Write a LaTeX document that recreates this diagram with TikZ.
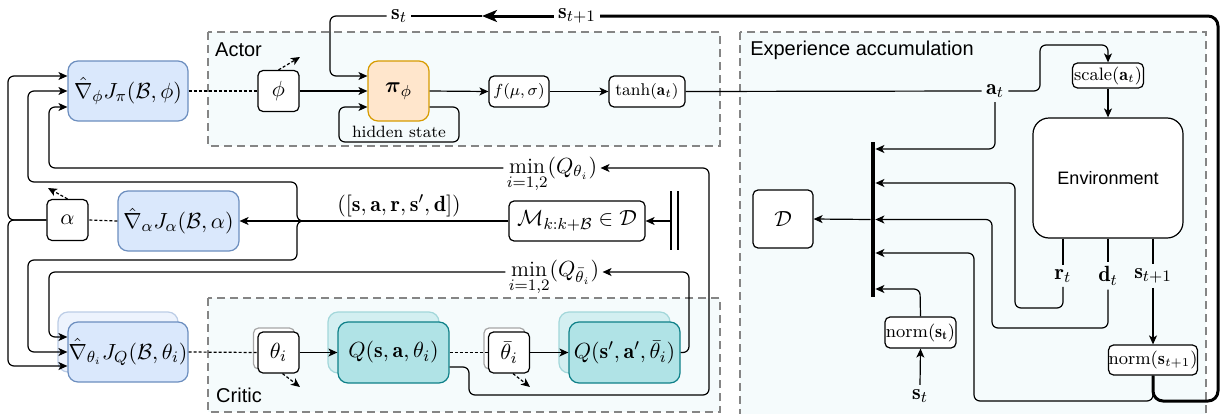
\documentclass[tikz,border=0pt]{standalone}
\usepackage{amsmath,amssymb}
\usepackage{fontspec}
\newfontfamily\sansfnt{Liberation Sans}
\usetikzlibrary{arrows.meta,calc}
\definecolor{framefill}{HTML}{F5FBFC}
\definecolor{framedraw}{HTML}{858585}
\definecolor{gradfill}{HTML}{DAE8FC}
\definecolor{graddraw}{HTML}{6C8EBF}
\definecolor{pifill}{HTML}{FFE6CC}
\definecolor{pidraw}{HTML}{D79B00}
\definecolor{qfill}{HTML}{B0E3E6}
\definecolor{qdraw}{HTML}{0E8088}
\definecolor{gradshfill}{HTML}{EDF3FD}
\definecolor{gradshdraw}{HTML}{BCCDE6}
\definecolor{qshfill}{HTML}{D3EFF1}
\definecolor{qshdraw}{HTML}{A3D7DA}
\begin{document}
\begin{tikzpicture}[x=0.5pt,y=-0.5pt,
  >={Stealth[length=4.5pt,width=4pt,inset=1.2pt]},
  every node/.style={font=\fontsize{11}{13}\selectfont},
  conn/.style={line width=0.6pt, rounded corners=3pt},
  thickconn/.style={line width=1.5pt, rounded corners=5pt},
  dotline/.style={line width=0.6pt, dash pattern=on 1.5pt off 1pt},
  dasharr/.style={line width=0.6pt, dash pattern=on 1.5pt off 1pt, ->},
  frame/.style={draw=framedraw, dash pattern=on 4pt off 2.5pt, fill=framefill, line width=0.6pt},
  pbox/.style={draw, rounded corners=2.5pt, fill=white, inner sep=0pt, line width=0.6pt},
  gbox/.style={draw=graddraw, fill=gradfill, rounded corners=5pt, inner sep=0pt, line width=0.6pt, minimum width=60pt, minimum height=30pt},
  gshbox/.style={gbox, draw=gradshdraw, fill=gradshfill},
  pibox/.style={draw=pidraw, fill=pifill, rounded corners=5pt, inner sep=0pt, line width=0.6pt, minimum width=30.5pt, minimum height=30pt},
  qbox/.style={draw=qdraw, fill=qfill, rounded corners=5pt, inner sep=0pt, line width=0.6pt, minimum width=55.5pt, minimum height=30.5pt},
  qshbox/.style={qbox, draw=qshdraw, fill=qshfill},
  parbox/.style={pbox, minimum width=20.5pt, minimum height=20.5pt},
  parsh/.style={parbox, draw=gray!70},
  lbl/.style={inner sep=2pt},
  smallfont/.style={font=\fontsize{8.5}{10}\selectfont},
  medfont/.style={font=\fontsize{9}{11}\selectfont},
  sanslbl/.style={font={\sansfnt\fontsize{10}{12}\selectfont}}
]
\useasboundingbox (0,0) rectangle (1231,413);
\fill[white] (0,0) rectangle (1231,413);

% frames
\path[frame] (208,32) rectangle (720,146);
\path[frame] (208,298) rectangle (720,412);
\path[frame] (740,32) rectangle (1206,425);
\node[sanslbl] (actorlbl) at (238.5,50) {Actor};
\node[sanslbl] (criticlbl) at (239,395) {Critic};
\node[sanslbl] (explbl) at (862,50) {Experience accumulation};

% actor
\node[gbox] (gphi) at (128,91) {$\hat{\nabla}_\phi J_\pi(\mathcal{B},\phi)$};
\node[parbox] (phi) at (278.5,91) {$\phi$};
\node[pibox] (pi) at (398.5,91) {$\boldsymbol{\pi}_\phi$};
\node[pbox, smallfont, minimum width=30pt, minimum height=15.5pt] (fms) at (519,91.5) {$f(\mu,\sigma)$};
\node[pbox, smallfont, minimum width=38pt, minimum height=15.5pt] (tanh) at (647,91.5) {$\tanh(\mathbf{a}_t)$};
\node[font=\fontsize{8.2}{10}\selectfont, inner sep=0pt] (hs) at (399,132) {hidden state};
\coordinate (phiout) at (300,57);

% top labels
\node[lbl] (sttop) at (399,16) {$\mathbf{s}_t$};
\node[lbl] (st1top) at (577,16) {$\mathbf{s}_{t+1}$};
\coordinate (tip) at (482,16);

% alpha
\node[parbox] (alpha) at (67.5,220) {$\alpha$};
\node[gbox, minimum width=60.5pt] (galpha) at (178.5,221) {$\hat{\nabla}_\alpha J_\alpha(\mathcal{B},\alpha)$};
\coordinate (alphaout) at (48,188);
\node[pbox, minimum width=68pt, minimum height=20pt] (M) at (577,221) {$\mathcal{M}_{k:k+\mathcal{B}}\in\mathcal{D}$};
\node[inner sep=1pt] (sard) at (399,206) {$([\mathbf{s},\mathbf{a},\mathbf{r},\mathbf{s}',\mathbf{d}])$};
\coordinate (brace) at (305,221);
\coordinate (dbar) at (671,221);
\node[inner sep=1.5pt] (minA) at (552,168) {$\smash[b]{\min\limits_{i=1,2}}(Q_{\theta_i})$};
\node[inner sep=1.5pt] (minB) at (554,272) {$\smash[b]{\min\limits_{i=1,2}}(Q_{\bar{\theta}_i})$};

% critic
\node[gshbox] (gthetash) at (118,342) {};
\node[gbox] (gtheta) at (128,352) {$\hat{\nabla}_{\theta_i} J_Q(\mathcal{B},\theta_i)$};
\node[parsh] (thetash) at (274,348.5) {};
\node[parbox] (theta) at (278.5,352.5) {$\theta_i$};
\node[qshbox] (Q1sh) at (383.5,342.5) {};
\node[qbox] (Q1) at (393.5,352.5) {$Q(\mathbf{s},\mathbf{a},\theta_i)$};
\node[parsh] (thetabarsh) at (504.5,348.5) {};
\node[parbox] (thetabar) at (509,352.5) {$\bar{\theta}_i$};
\node[qshbox] (Q2sh) at (614.5,342.5) {};
\node[qbox] (Q2) at (624.5,352.5) {$Q(\mathbf{s}',\mathbf{a}',\bar{\theta}_i)$};
\coordinate (thetaout) at (300,387);
\coordinate (thetabarout) at (530,387);

% experience
\node[pbox, minimum width=30pt, minimum height=29pt] (D) at (783,219) {$\mathcal{D}$};
\node[fill=black, inner sep=0pt, minimum width=2pt, minimum height=77.5pt] (bar) at (873,219.5) {};
\node[draw, rounded corners=8pt, fill=white, line width=0.6pt, minimum width=75pt, minimum height=60pt, font={\sansfnt\fontsize{9}{11}\selectfont}] (env) at (1108,178) {Environment};
\node[pbox, medfont, minimum width=35.5pt, minimum height=12.5pt] (scale) at (1108,75.5) {$\mathrm{scale}(\mathbf{a}_t)$};
\node[lbl] (at) at (995,91) {$\mathbf{a}_t$};
\node[lbl] (rt) at (1063,276) {$\mathbf{r}_t$};
\node[lbl] (dt) at (1108,276) {$\mathbf{d}_t$};
\node[lbl] (st1) at (1153,276) {$\mathbf{s}_{t+1}$};
\node[pbox, medfont, minimum width=42.5pt, minimum height=15pt] (norm1) at (1153,360) {$\mathrm{norm}(\mathbf{s}_{t+1})$};
\node[pbox, medfont, minimum width=35.5pt, minimum height=15.5pt] (norm0) at (920.5,332.5) {$\mathrm{norm}(\mathbf{s_t})$};
\node[lbl] (stb) at (920,396) {$\mathbf{s}_t$};

% double bar
\draw[line width=1pt] (671,191) -- (671,250);
\draw[line width=1pt] (678,191) -- (678,250);

% actor connectors
\draw[dotline] (gphi.east) -- (phi.west);
\draw[dasharr] (phi.north) -- (phiout);
\draw[conn,->] (phi.east) -- (pi.west);
\draw[conn,->] (pi.east) -- (fms.west);
\draw[conn,->] (fms.east) -- (tanh.west);
\draw[conn,->] ($(pi.east)+(0,16)$) -- (459,107) -- (459,142) -- (339,142) -- (339,107) -- ($(pi.west)+(0,16)$);
\draw[thickconn] (norm1.south) -- (1153,401) -- (1218,401) -- (1218,16) -- (st1top.east);
\draw[line width=1.5pt, -{Stealth[length=7.5pt,width=6pt,inset=2pt]}] (st1top.west) -- (tip);
\draw[conn] (tip) -- (sttop.east);
\draw[conn,->] (sttop.west) -- (330,16) -- (330,76) -- ($(pi.west)+(0,-15)$);

% left connectors
\draw[dotline] (galpha.west) -- (alpha.east);
\draw[dasharr] (alpha.north) -- (alphaout);
\draw[conn,->] (M.west) -- (galpha.east);
\draw[conn,->] (brace) -- (297,221) -- (297,182) -- (28,182) -- (28,91) -- (gphi.west);
\draw[conn,->] (brace) -- (297,221) -- (297,260) -- (28,260) -- (28,352) -- (gtheta.west);
\draw[conn,->] (alpha.west) -- (8,220) -- (8,76) -- ($(gphi.west)+(0,-15)$);
\draw[conn,->] (alpha.west) -- (8,220) -- (8,366) -- ($(gtheta.west)+(0,14)$);
\draw[conn,->] ($(Q1.east)+(0,14.5)$) -- (469,367) -- (469,395) -- (709,395) -- (709,168) -- (minA.east);
\draw[conn,->] (minA.west) -- (49,168) -- (49,107) -- ($(gphi.west)+(0,16)$);
\draw[conn,->] (Q2.east) -- (689,352.5) -- (689,272) -- (minB.east);
\draw[conn,->] (minB.west) -- (49,272) -- (49,337) -- ($(gtheta.west)+(0,-15)$);
\draw[conn,->] (dbar) -- (M.east);

% critic connectors
\draw[dotline] (gtheta.east) -- (theta.west);
\draw[dotline] (Q1.east) -- (thetabar.west);
\draw[conn,->] (theta.east) -- (Q1.west);
\draw[conn,->] (thetabar.east) -- (Q2.west);
\draw[dasharr] ($(theta.south)+(4,0)$) -- (thetaout);
\draw[dasharr] ($(thetabar.south)+(4,0)$) -- (thetabarout);

% experience connectors
\draw[conn] (tanh.east) -- (at.west);
\draw[conn,->] (at.east) -- (1040,91) -- (1040,45) -- (1108,45) -- (scale.north);
\draw[conn,->] (at.south) -- (995,149) -- ($(bar.east)+(0,-70.5)$);
\draw[conn,->] (scale.south) -- (env.north);
\draw[conn] ($(env.south)+(-45,0)$) -- (rt.north);
\draw[conn,->] (rt.south) -- (1063,308) -- (1015,308) -- (1015,183) -- ($(bar.east)+(0,-36.5)$);
\draw[line width=1.2pt] (env.south) -- (dt.north);
\draw[conn,->] (dt.south) -- (1108,328) -- (992,328) -- (992,219.5) -- (bar.east);
\draw[conn] ($(env.south)+(45,0)$) -- (st1.north);
\draw[conn,->] (st1.south) -- (norm1.north);
\draw[conn,->] (norm1.south) -- (1153,401) -- (974,401) -- (974,253) -- ($(bar.east)+(0,33.5)$);
\draw[conn,->] (norm0.north) -- (920,289) -- ($(bar.east)+(0,69.5)$);
\draw[conn,->] (stb.north) -- (norm0.south);
\draw[conn,->] (bar.west) -- (D.east);
\end{tikzpicture}
\end{document}
